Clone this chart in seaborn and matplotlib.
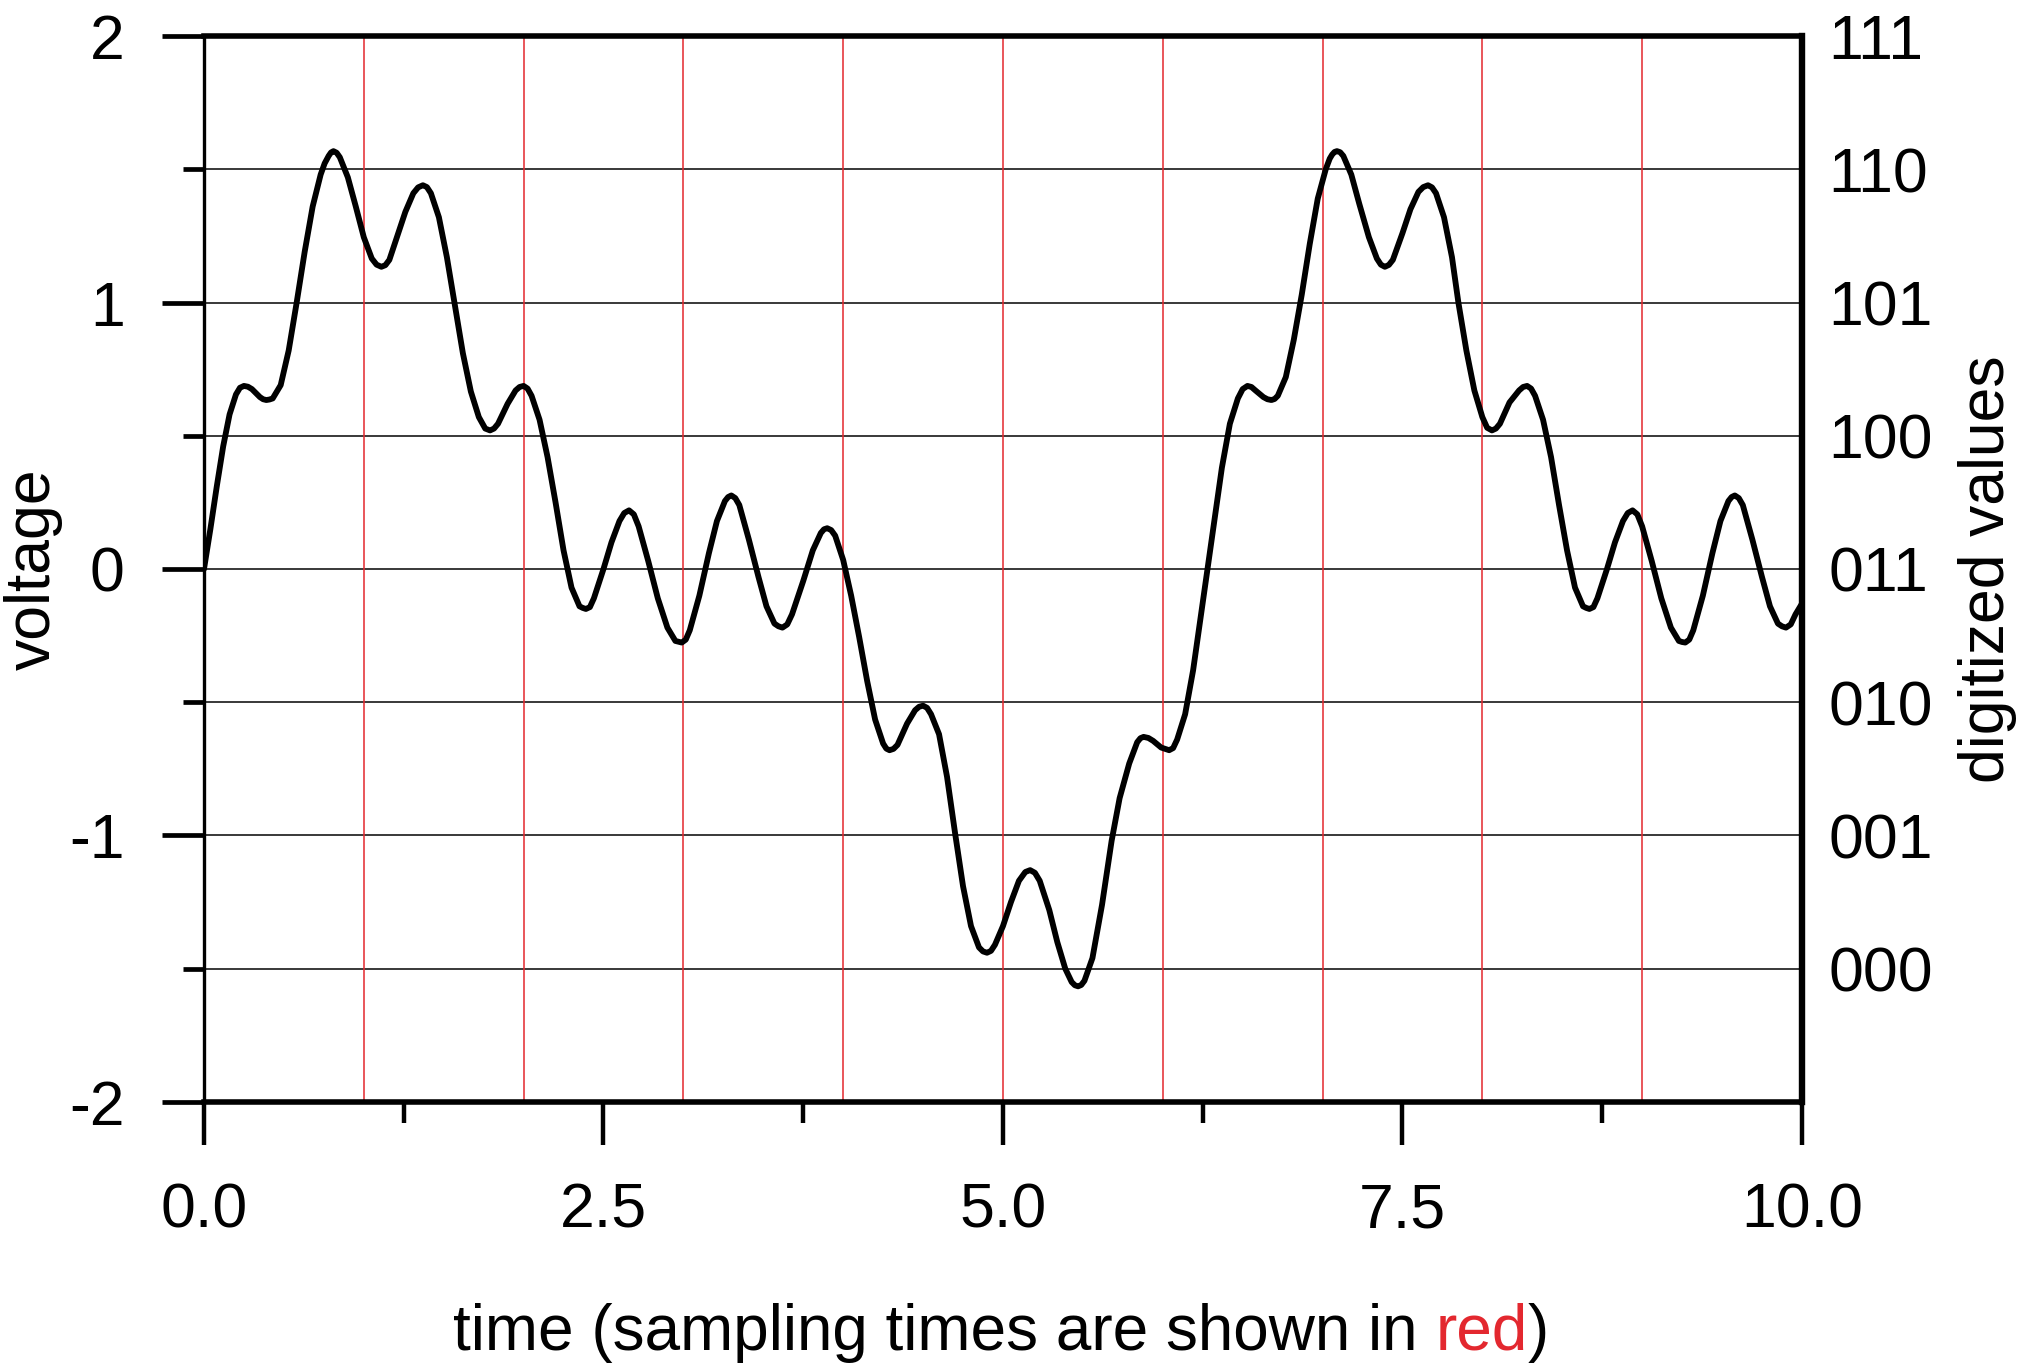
import numpy as np
import matplotlib
matplotlib.use("Agg")
import matplotlib.pyplot as plt
import seaborn as sns

# signal (time, voltage)
time = [0.00, 0.04, 0.08, 0.12, 0.16, 0.20, 0.225, 0.25, 0.275, 0.30,
        0.35, 0.37, 0.39, 0.41, 0.43, 0.48, 0.53, 0.58, 0.63, 0.68,
        0.73, 0.755, 0.78, 0.795, 0.81, 0.83, 0.85, 0.90, 0.95, 1.00,
        1.05, 1.08, 1.11, 1.135, 1.16, 1.21, 1.26, 1.31, 1.34, 1.37,
        1.395, 1.42, 1.47, 1.52, 1.57, 1.62, 1.67, 1.72, 1.76, 1.79,
        1.815, 1.84, 1.90, 1.95, 1.975, 2.00, 2.025, 2.05, 2.10, 2.15,
        2.20, 2.25, 2.30, 2.35, 2.37, 2.39, 2.415, 2.44, 2.50, 2.55,
        2.60, 2.63, 2.66, 2.69, 2.72, 2.78, 2.84, 2.90, 2.95, 2.99,
        3.015, 3.04, 3.10, 3.16, 3.21, 3.26, 3.28, 3.30, 3.325, 3.35,
        3.41, 3.47, 3.52, 3.57, 3.595, 3.62, 3.65, 3.68, 3.75, 3.81,
        3.86, 3.88, 3.90, 3.925, 3.95, 4.00, 4.05, 4.10, 4.15, 4.20,
        4.25, 4.27, 4.29, 4.315, 4.34, 4.40, 4.45, 4.475, 4.50, 4.525,
        4.55, 4.60, 4.65, 4.70, 4.75, 4.80, 4.85, 4.875, 4.90, 4.925,
        4.95, 5.00, 5.05, 5.10, 5.14, 5.17, 5.20, 5.23, 5.29, 5.34,
        5.39, 5.43, 5.45, 5.47, 5.49, 5.51, 5.56, 5.62, 5.68, 5.73,
        5.79, 5.84, 5.86, 5.88, 5.91, 5.94, 5.99, 6.04, 6.065, 6.09,
        6.14, 6.19, 6.23, 6.28, 6.33, 6.37, 6.42, 6.47, 6.50, 6.53,
        6.555, 6.58, 6.63, 6.655, 6.68, 6.70, 6.72, 6.77, 6.82, 6.87,
        6.92, 6.97, 7.02, 7.045, 7.06, 7.075, 7.09, 7.11, 7.13, 7.18,
        7.23, 7.29, 7.34, 7.365, 7.39, 7.415, 7.44, 7.50, 7.55, 7.60,
        7.63, 7.66, 7.685, 7.71, 7.76, 7.81, 7.85, 7.90, 7.95, 8.00,
        8.03, 8.06, 8.085, 8.11, 8.17, 8.23, 8.255, 8.28, 8.305, 8.33,
        8.38, 8.43, 8.48, 8.53, 8.58, 8.63, 8.65, 8.67, 8.695, 8.72,
        8.78, 8.83, 8.88, 8.91, 8.94, 8.97, 9.00, 9.06, 9.12, 9.18,
        9.23, 9.25, 9.27, 9.295, 9.32, 9.38, 9.44, 9.49, 9.54, 9.56,
        9.58, 9.605, 9.63, 9.69, 9.75, 9.80, 9.85, 9.875, 9.90, 9.93,
        9.96, 10.00]
voltage = [0.000, 0.150, 0.310, 0.460, 0.580, 0.655, 0.680, 0.687, 0.684, 0.675,
           0.645, 0.637, 0.634, 0.636, 0.640, 0.690, 0.820, 1.000, 1.190, 1.360,
           1.480, 1.522, 1.550, 1.563, 1.568, 1.562, 1.545, 1.470, 1.360, 1.245,
           1.165, 1.142, 1.134, 1.140, 1.160, 1.250, 1.340, 1.410, 1.432, 1.440,
           1.433, 1.410, 1.320, 1.170, 0.990, 0.810, 0.666, 0.570, 0.527, 0.520,
           0.527, 0.545, 0.620, 0.670, 0.683, 0.687, 0.677, 0.650, 0.560, 0.420,
           0.250, 0.070, -0.070, -0.140, -0.146, -0.150, -0.143, -0.110, 0.000, 0.100,
           0.180, 0.210, 0.220, 0.205, 0.160, 0.030, -0.110, -0.220, -0.270, -0.276,
           -0.265, -0.230, -0.100, 0.060, 0.180, 0.255, 0.270, 0.276, 0.266, 0.240,
           0.110, -0.030, -0.140, -0.205, -0.215, -0.220, -0.208, -0.170, -0.045, 0.070,
           0.135, 0.149, 0.153, 0.146, 0.125, 0.034, -0.100, -0.255, -0.420, -0.565,
           -0.655, -0.674, -0.680, -0.675, -0.660, -0.580, -0.530, -0.517, -0.513, -0.521,
           -0.545, -0.620, -0.780, -0.990, -1.190, -1.340, -1.420, -1.435, -1.440, -1.433,
           -1.410, -1.340, -1.250, -1.170, -1.137, -1.130, -1.140, -1.170, -1.280, -1.400,
           -1.500, -1.550, -1.562, -1.566, -1.561, -1.545, -1.460, -1.260, -1.020, -0.860,
           -0.730, -0.650, -0.635, -0.630, -0.634, -0.645, -0.670, -0.680, -0.672, -0.640,
           -0.545, -0.380, -0.210, 0.000, 0.210, 0.380, 0.545, 0.640, 0.675, 0.687,
           0.683, 0.670, 0.645, 0.637, 0.634, 0.638, 0.650, 0.720, 0.860, 1.030,
           1.220, 1.390, 1.500, 1.540, 1.555, 1.565, 1.568, 1.564, 1.550, 1.480,
           1.370, 1.245, 1.165, 1.142, 1.134, 1.141, 1.160, 1.260, 1.350, 1.415,
           1.433, 1.440, 1.432, 1.410, 1.320, 1.170, 1.000, 0.820, 0.670, 0.570,
           0.530, 0.520, 0.527, 0.545, 0.625, 0.670, 0.683, 0.687, 0.677, 0.650,
           0.560, 0.420, 0.240, 0.070, -0.070, -0.140, -0.146, -0.150, -0.143, -0.110,
           0.000, 0.100, 0.180, 0.210, 0.220, 0.205, 0.160, 0.030, -0.110, -0.220,
           -0.270, -0.274, -0.276, -0.265, -0.230, -0.100, 0.060, 0.180, 0.255, 0.270,
           0.276, 0.266, 0.240, 0.110, -0.030, -0.140, -0.205, -0.215, -0.220, -0.208,
           -0.170, -0.130]

sample_times = [0, 1, 2, 3, 4, 5, 6, 7, 8, 9, 10]
x_major = [0.0, 2.5, 5.0, 7.5, 10.0]
x_labels = ["0.0", "2.5", "5.0", "7.5", "10.0"]
x_minor = [1.25, 3.75, 6.25, 8.75]
y_major = [-2, -1, 0, 1, 2]
y_labels = ["-2", "-1", "0", "1", "2"]
y_minor = [-1.5, -0.5, 0.5, 1.5]
digit_levels = [2.0, 1.5, 1.0, 0.5, 0.0, -0.5, -1.0, -1.5]
digit_labels = ["111", "110", "101", "100", "011", "010", "001", "000"]

sns.set_style("white")
plt.rcParams["font.family"] = ["Liberation Sans", "DejaVu Sans"]
plt.rcParams["text.color"] = "black"
plt.rcParams["axes.labelcolor"] = "black"
plt.rcParams["xtick.color"] = "black"
plt.rcParams["ytick.color"] = "black"
FS = 45
RED = "#e3282f"

fig = plt.figure(figsize=(20.4, 13.64), dpi=100)
ax = fig.add_axes([0.1, 0.1921, 0.7833, 0.7815])

ax.grid(axis="y", which="both", color="#2a2a2a", lw=1.3, zorder=1)
for t in sample_times:
    ax.axvline(t, color=RED, lw=1.3, alpha=0.85, zorder=1.5)

sns.lineplot(x=time, y=voltage, ax=ax, color="black", linewidth=4.2, zorder=3, sort=False,
             solid_joinstyle="round", solid_capstyle="round")

ax.set_xlim(0, 10)
ax.set_ylim(-2, 2)
ax.set_xticks(x_major)
ax.set_xticklabels(x_labels)
ax.set_xticks(x_minor, minor=True)
ax.set_yticks(y_major)
ax.set_yticklabels(y_labels)
ax.set_yticks(y_minor, minor=True)

ax.tick_params(axis="x", which="major", direction="out", length=31, width=3.2,
               pad=26, labelsize=FS, bottom=True)
ax.tick_params(axis="x", which="minor", direction="out", length=15, width=3.2, bottom=True)
ax.tick_params(axis="y", which="major", direction="out", length=30, width=3.4,
               pad=27, labelsize=FS, left=True)
ax.tick_params(axis="y", which="minor", direction="out", length=15, width=3.4, left=True)

for side, lw in [("left", 2.4), ("bottom", 4.0), ("top", 4.0)]:
    ax.spines[side].set_color("black")
    ax.spines[side].set_linewidth(lw)
ax.spines["right"].set_visible(False)

ax.set_ylabel("voltage", fontsize=FS)
ax.yaxis.set_label_coords(-0.107, 0.5)
ax.yaxis.label.set_va("center")

ax2 = ax.twinx()
ax2.set_ylim(-2, 2)
ax2.set_yticks(digit_levels)
ax2.set_yticklabels(digit_labels)
ax2.tick_params(axis="y", length=0, pad=19, labelsize=FS)
for side in ["left", "top", "bottom"]:
    ax2.spines[side].set_visible(False)
ax2.spines["right"].set_color("black")
ax2.spines["right"].set_linewidth(4.6)
ax2.set_ylabel("digitized values", fontsize=FS, rotation=90)
ax2.yaxis.set_label_coords(1.116, 0.5)
ax2.yaxis.label.set_va("center")
ax2.yaxis.label.set_ha("center")

# x label with the word "red" in red
XFS = 46
t1 = ax.text(0.156, -0.2326, "time (sampling times are shown in", transform=ax.transAxes,
             fontsize=XFS, ha="left", va="baseline", color="black")
t2 = ax.annotate("red", xy=(1, 0), xycoords=t1, xytext=(12.8, 0),
                 textcoords="offset points", fontsize=XFS, ha="left", va="bottom", color=RED)
ax.annotate(")", xy=(1, 0), xycoords=t2, fontsize=XFS, ha="left", va="bottom", color="black")

fig.savefig("out.png", dpi=100)
